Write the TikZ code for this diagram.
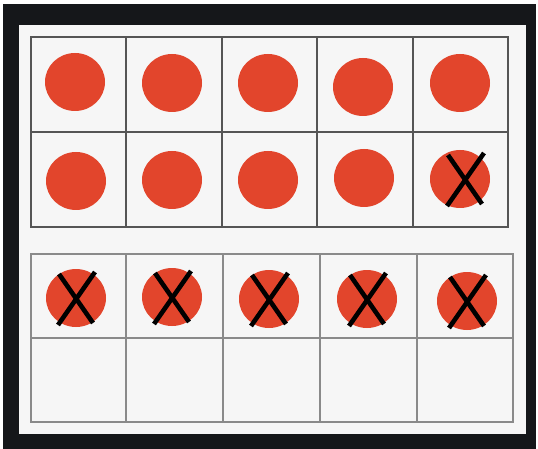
\documentclass[tikz,border=0pt]{standalone}
\usetikzlibrary{shapes.geometric}
\definecolor{frameblack}{HTML}{15171A}
\definecolor{paper}{HTML}{F6F6F6}
\definecolor{dotred}{HTML}{E2452C}
\definecolor{gridA}{HTML}{555555}
\definecolor{gridB}{HTML}{8A8A8A}
\begin{document}
\begin{tikzpicture}[x=1pt,y=-1pt,
  dot/.style={ellipse,fill=dotred,draw=none,minimum width=60pt,minimum height=58pt,inner sep=0pt},
  xmark/.style={line width=4.6pt,black},
  gridone/.style={draw=gridA,line width=1.6pt},
  gridtwo/.style={draw=gridB,line width=2pt}]
\useasboundingbox (0,0) rectangle (538,449);
\fill[white] (0,0) rectangle (538,449);
\fill[frameblack] (3,4) rectangle (536,449);
\fill[paper] (19,25) rectangle (526,434);
% ten-frame 1
\draw[gridone] (31,37) rectangle (508,227);
\draw[gridone] (31,132) -- (508,132);
\foreach \x in {126,222,317,413} \draw[gridone] (\x,37) -- (\x,227);
% ten-frame 2
\draw[gridtwo] (31,254) rectangle (513,422);
\draw[gridtwo] (31,338) -- (513,338);
\foreach \x in {126,223,320,417} \draw[gridtwo] (\x,254) -- (\x,422);
% dots frame 1
\node[dot] (a1) at (75,82) {};
\node[dot] (a2) at (172,83) {};
\node[dot] (a3) at (268,83) {};
\node[dot] (a4) at (363,87) {};
\node[dot] (a5) at (460,83) {};
\node[dot] (b1) at (76,181) {};
\node[dot] (b2) at (172,180) {};
\node[dot] (b3) at (268,180) {};
\node[dot] (b4) at (364,178) {};
\node[dot] (b5) at (460,179) {};
% dots frame 2
\node[dot] (c1) at (76,298) {};
\node[dot] (c2) at (172,297) {};
\node[dot] (c3) at (269,299) {};
\node[dot] (c4) at (367,299) {};
\node[dot] (c5) at (467,301) {};
% crosses
\foreach \n/\dx in {b5/5,c1/0,c2/0,c3/0,c4/0,c5/0}{
  \draw[xmark] ([shift={(\dx-17,-24)}]\n.center) -- ([shift={(\dx+17,25)}]\n.center);
  \draw[xmark] ([shift={(\dx+19,-26)}]\n.center) -- ([shift={(\dx-18,27)}]\n.center);
}
\end{tikzpicture}
\end{document}
